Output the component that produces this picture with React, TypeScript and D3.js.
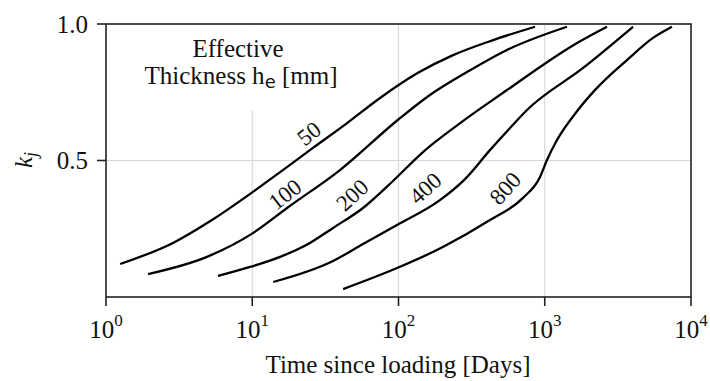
import React, {useEffect, useRef} from "react";
import * as d3 from "d3";

// effective thickness h_e [mm] for each curve
const thickness = ["50", "100", "200", "400", "800"];

// time since loading [days] and k_j
const days50 = [1.25, 2.87, 5.3, 10.1, 16.2, 26.0, 44.5, 74.8, 136, 236, 443, 858];
const kj50 = [0.121, 0.198, 0.282, 0.385, 0.465, 0.546, 0.637, 0.729, 0.821, 0.886, 0.941, 0.99];

const days100 = [1.94, 4.9, 10.1, 17.3, 39.8, 100.7, 164, 294, 552, 1419];
const kj100 = [0.084, 0.147, 0.234, 0.326, 0.465, 0.652, 0.74, 0.824, 0.905, 0.99];

const days200 = [5.83, 9.66, 15.5, 24.8, 35.7, 57.2, 91.7, 147, 264, 552, 973, 1662, 2666];
const kj200 = [0.077, 0.11, 0.147, 0.198, 0.253, 0.326, 0.425, 0.531, 0.637, 0.758, 0.85, 0.93, 0.99];

const days400 = [13.9, 35.7, 57.2, 97.7, 192, 285, 422, 579, 756, 1828, 4012];
const kj400 = [0.055, 0.132, 0.194, 0.264, 0.355, 0.432, 0.538, 0.619, 0.685, 0.839, 0.99];

const days800 = [41.8, 97.7, 201, 422, 710, 929, 1036, 1213, 1688, 2277, 3650, 5500, 7410];
const kj800 = [0.029, 0.106, 0.183, 0.282, 0.363, 0.44, 0.502, 0.575, 0.685, 0.766, 0.868, 0.949, 0.99];

// where each curve's label sits (days, k_j) and its tilt
const labelDays = [24.4, 16.7, 48.1, 152, 535];
const labelKj = [0.6, 0.377, 0.374, 0.399, 0.399];
const labelAngle = [-38, -38, -43, -42, -48];

const xTickExp = [0, 1, 2, 3, 4];
const yTicks = [0.5, 1.0];

const allDays = [days50, days100, days200, days400, days800];
const allKj = [kj50, kj100, kj200, kj400, kj800];

const App: React.FC = () => {
    const svgRef = useRef<SVGSVGElement>(null);
    const width = 710;
    const height = 381;

    useEffect(() => {
        document.body.style.margin = "0";
        const svg = d3.select(svgRef.current);
        svg.selectAll("*").remove();

        const serif = "'Liberation Serif', 'Times New Roman', serif";

        const x = d3.scaleLog().domain([1, 1e4]).range([106, 691]);
        const y = d3.scaleLinear().domain([0, 1]).range([297, 24]);

        // grid
        const grid = svg.append("g").attr("stroke", "#d6d6d6").attr("stroke-width", 1.1);
        [1, 2, 3].forEach(e => {
            grid.append("line")
                .attr("x1", x(10 ** e)).attr("x2", x(10 ** e))
                .attr("y1", y(1)).attr("y2", y(0));
        });
        grid.append("line")
            .attr("x1", x(1)).attr("x2", x(1e4))
            .attr("y1", y(0.5)).attr("y2", y(0.5));

        // annotation box (white background hides grid)
        svg.append("rect")
            .attr("x", 130).attr("y", y(1) + 1)
            .attr("width", 225).attr("height", 86)
            .attr("fill", "white");
        const ann = svg.append("g").attr("font-family", serif).attr("font-size", 25).attr("fill", "#111");
        ann.append("text").attr("x", 238).attr("y", 57).attr("text-anchor", "middle").text("Effective");
        const t2 = ann.append("text").attr("x", 241).attr("y", 84).attr("text-anchor", "middle");
        t2.append("tspan").text("Thickness h");
        t2.append("tspan").attr("font-family", "'DejaVu Sans', sans-serif").attr("font-size", 18).attr("dy", 4).text("e");
        t2.append("tspan").attr("dy", -4).text(" [mm]");

        // curves
        const line = d3.line<[number, number]>()
            .x(d => x(d[0]))
            .y(d => y(d[1]))
            .curve(d3.curveMonotoneX);

        thickness.forEach((name, i) => {
            const pts: [number, number][] = allDays[i].map((d, j) => [d, allKj[i][j]]);
            svg.append("path")
                .datum(pts)
                .attr("fill", "none")
                .attr("stroke", "black")
                .attr("stroke-width", 2.3)
                .attr("stroke-linejoin", "round")
                .attr("d", line);

            svg.append("text")
                .attr("transform", `translate(${x(labelDays[i])},${y(labelKj[i])}) rotate(${labelAngle[i]})`)
                .attr("text-anchor", "middle")
                .attr("dy", "0.35em")
                .attr("font-family", serif)
                .attr("font-size", 23)
                .attr("fill", "#111")
                .text(name);
        });

        // frame
        svg.append("rect")
            .attr("x", x(1)).attr("y", y(1))
            .attr("width", x(1e4) - x(1)).attr("height", y(0) - y(1))
            .attr("fill", "none").attr("stroke", "#222").attr("stroke-width", 1.6);

        // x ticks
        const xt = svg.append("g").attr("font-family", serif).attr("fill", "#111");
        xTickExp.forEach(e => {
            xt.append("line")
                .attr("x1", x(10 ** e)).attr("x2", x(10 ** e))
                .attr("y1", y(0)).attr("y2", y(0) + 9)
                .attr("stroke", "#222").attr("stroke-width", 1.6);
            const t = xt.append("text")
                .attr("x", x(10 ** e)).attr("y", 338)
                .attr("text-anchor", "middle")
                .attr("font-size", 25);
            t.append("tspan").text("10");
            t.append("tspan").attr("font-size", 17).attr("dy", -12).text(String(e));
        });

        // y ticks
        yTicks.forEach(v => {
            xt.append("line")
                .attr("x1", x(1) - 9).attr("x2", x(1))
                .attr("y1", y(v)).attr("y2", y(v))
                .attr("stroke", "#222").attr("stroke-width", 1.6);
            xt.append("text")
                .attr("x", 88).attr("y", y(v))
                .attr("dy", "0.35em")
                .attr("text-anchor", "end")
                .attr("font-size", 25)
                .text(v.toFixed(1));
        });

        // axis titles
        svg.append("text")
            .attr("x", 398).attr("y", 373)
            .attr("text-anchor", "middle")
            .attr("font-family", serif)
            .attr("font-size", 25)
            .attr("fill", "#111")
            .text("Time since loading [Days]");

        const yl = svg.append("text")
            .attr("transform", `translate(32,160) rotate(-90)`)
            .attr("text-anchor", "middle")
            .attr("font-family", serif)
            .attr("font-size", 25)
            .attr("fill", "#111");
        yl.append("tspan").attr("font-style", "italic").text("k");
        yl.append("tspan").attr("font-style", "italic").attr("font-size", 18).attr("dy", 5).text("j");
    }, []);

    return <svg ref={svgRef} width={width} height={height} style={{display: "block"}}></svg>;
};

export default App;
